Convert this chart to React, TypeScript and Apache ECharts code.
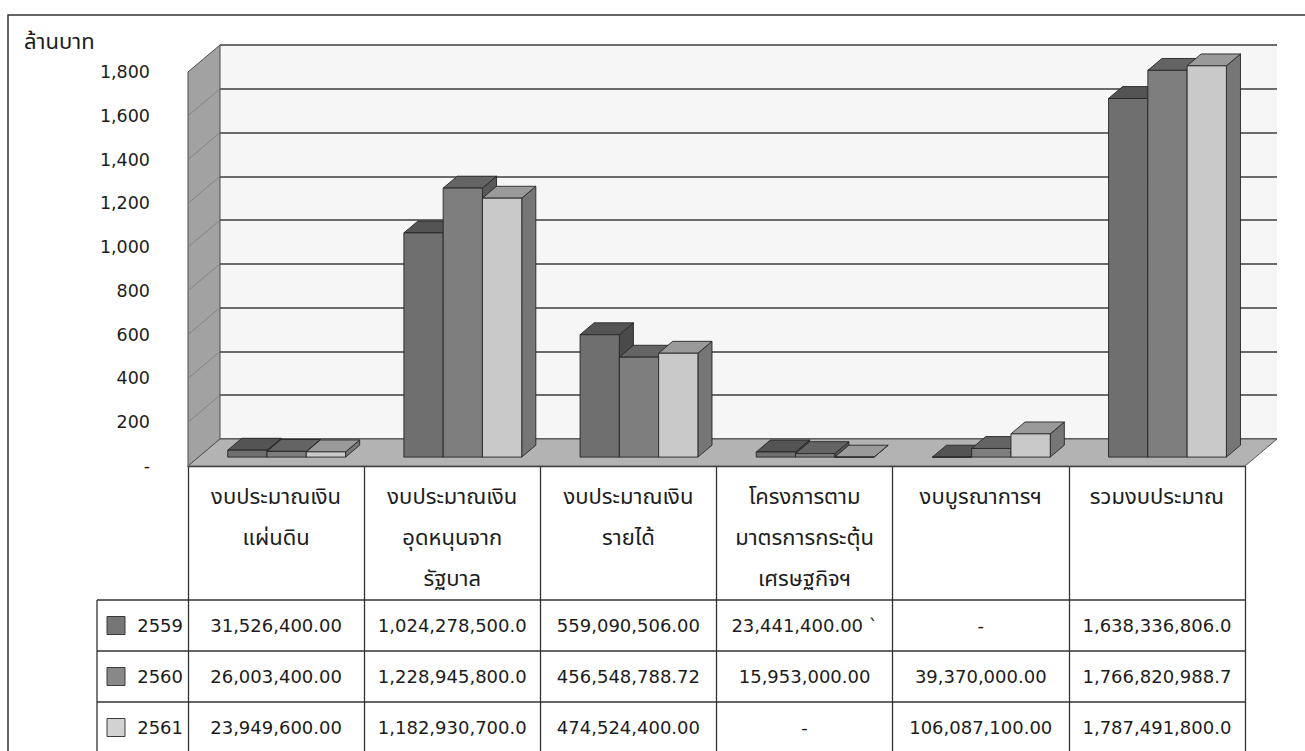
import React, { useEffect, useRef } from "react";
import * as echarts from "echarts";

// ---------- data ----------
const CATEGORIES = [
  "งบประมาณเงิน\nแผ่นดิน",
  "งบประมาณเงิน\nอุดหนุนจาก\nรัฐบาล",
  "งบประมาณเงิน\nรายได้",
  "โครงการตาม\nมาตรการกระตุ้น\nเศรษฐกิจฯ",
  "งบบูรณาการฯ",
  "รวมงบประมาณ",
];
const YEARS = ["2559", "2560", "2561"];

// values in baht
const V2559 = [31526400, 1024278500, 559090506, 23441400, 0, 1638336806];
const V2560 = [26003400, 1228945800, 456548788.72, 15953000, 39370000, 1766820988.7];
const V2561 = [23949600, 1182930700, 474524400, 0, 106087100, 1787491800];

// table cell texts (as printed)
const T2559 = ["31,526,400.00", "1,024,278,500.0", "559,090,506.00", "23,441,400.00 `", "-", "1,638,336,806.0"];
const T2560 = ["26,003,400.00", "1,228,945,800.0", "456,548,788.72", "15,953,000.00", "39,370,000.00", "1,766,820,988.7"];
const T2561 = ["23,949,600.00", "1,182,930,700.0", "474,524,400.00", "-", "106,087,100.00", "1,787,491,800.0"];

const Y_MIN = 0;
const Y_MAX = 1800;
const Y_INTERVAL = 200;
const Y_UNIT = "ล้านบาท";

// ---------- styles ----------
const FONT = "Tahoma, 'DejaVu Sans', 'Noto Sans Thai', Loma, Garuda, sans-serif";
const FRONT = { left: 188, right: 60, top: 72, bottom: 285 };
const DEPTH_X = 32;
const DEPTH_Y = 27;
const BAR_FRAC = 0.223;
const BAR_FRONT = 0.33;
const BAR_DEPTH = 0.44;
const FRONT_FILL = ["#6f6f6f", "#7e7e7e", "#c9c9c9"];
const TOP_FILL = ["#545454", "#646464", "#9a9a9a"];
const SIDE_FILL = ["#4a4a4a", "#595959", "#767676"];
const KEY_FILL = ["#767676", "#888888", "#d2d2d2"];
const EDGE = "#262626";
const LINE = "#333333";
const TEXT = "#1c1c1c";
const HEADER_H = 134;
const ROW_H = 51;
const LEGEND_LEFT = 97;

const SERIES_VALUES = [V2559, V2560, V2561];
const TABLE_TEXT = [T2559, T2560, T2561];

function barRenderer(k: number) {
  return (params: any, api: any) => {
    const ci = api.value(0);
    const v = api.value(1);
    const base = api.coord([ci, 0]);
    const top = api.coord([ci, v]);
    const band = api.size([1, 0])[0];
    const w = band * BAR_FRAC;
    const ox = BAR_FRONT * DEPTH_X;
    const oy = BAR_FRONT * DEPTH_Y;
    const bx = BAR_DEPTH * DEPTH_X;
    const by = BAR_DEPTH * DEPTH_Y;
    const x0 = base[0] - 1.5 * w + k * w + ox;
    const x1 = x0 + w;
    const yb = base[1] - oy;
    const yt = top[1] - oy;
    const st = (fill: string) => ({ fill, stroke: EDGE, lineWidth: 0.9 });
    return {
      type: "group",
      children: [
        { type: "polygon", shape: { points: [[x1, yt], [x1 + bx, yt - by], [x1 + bx, yb - by], [x1, yb]] }, style: st(SIDE_FILL[k]) },
        { type: "polygon", shape: { points: [[x0, yt], [x1, yt], [x1 + bx, yt - by], [x0 + bx, yt - by]] }, style: st(TOP_FILL[k]) },
        { type: "rect", shape: { x: x0, y: yt, width: w, height: Math.max(0, yb - yt) }, style: st(FRONT_FILL[k]) },
      ],
    };
  };
}

function wallRenderer(params: any, api: any) {
  const band = api.size([1, 0])[0];
  const c0 = api.coord([0, Y_MIN]);
  const cTop = api.coord([0, Y_MAX]);
  const lx = c0[0] - band / 2;
  const rx = lx + band * CATEGORIES.length;
  const y0 = c0[1];
  const yT = cTop[1];
  const children: any[] = [
    {
      type: "polygon",
      shape: { points: [[lx, yT], [lx + DEPTH_X, yT - DEPTH_Y], [lx + DEPTH_X, y0 - DEPTH_Y], [lx, y0]] },
      style: { fill: "#a2a2a2", stroke: "#4a4a4a", lineWidth: 1 },
    },
  ];
  for (let v = Y_MIN + Y_INTERVAL; v < Y_MAX; v += Y_INTERVAL) {
    const y = api.coord([0, v])[1];
    children.push({
      type: "line",
      shape: { x1: lx, y1: y, x2: lx + DEPTH_X, y2: y - DEPTH_Y },
      style: { stroke: "#7a7a7a", lineWidth: 0.8 },
    });
  }
  children.push({
    type: "polygon",
    shape: { points: [[lx, y0], [lx + DEPTH_X, y0 - DEPTH_Y], [rx + DEPTH_X, y0 - DEPTH_Y], [rx, y0]] },
    style: { fill: "#b3b3b3", stroke: "#555555", lineWidth: 1 },
  });
  return { type: "group", children };
}

export default function App() {
  const ref = useRef<HTMLDivElement>(null);
  useEffect(() => {
    if (!ref.current) return;
    const chart = echarts.init(ref.current, undefined, { renderer: "svg" });
    const W = 1305;
    const H = 751;
    const back = {
      left: FRONT.left + DEPTH_X,
      right: FRONT.right - DEPTH_X,
      top: FRONT.top - DEPTH_Y,
      bottom: FRONT.bottom + DEPTH_Y,
    };
    chart.setOption({
      animation: false,
      backgroundColor: "#ffffff",
      textStyle: { fontFamily: FONT },
      title: {
        text: Y_UNIT,
        left: 19,
        top: 25,
        textStyle: { fontFamily: FONT, fontSize: 22, fontWeight: "normal", color: TEXT },
      },
      grid: [
        { ...FRONT, containLabel: false },
        { ...back, show: true, backgroundColor: "#f6f6f6", borderWidth: 0, containLabel: false },
      ],
      xAxis: [
        {
          type: "category",
          gridIndex: 0,
          data: CATEGORIES,
          axisLine: { show: true, lineStyle: { color: LINE, width: 1.3 } },
          axisTick: { show: true, length: 300, lineStyle: { color: LINE, width: 1.3 } },
          axisLabel: {
            interval: 0,
            margin: 10,
            fontFamily: FONT,
            fontSize: 22,
            lineHeight: 41,
            verticalAlign: "top",
            color: TEXT,
          },
        },
        { type: "category", gridIndex: 1, data: CATEGORIES, show: false },
      ],
      yAxis: [
        {
          type: "value",
          gridIndex: 0,
          min: Y_MIN,
          max: Y_MAX,
          interval: Y_INTERVAL,
          axisLine: { show: false },
          axisTick: { show: false },
          splitLine: { show: false },
          axisLabel: {
            margin: 38,
            fontFamily: FONT,
            fontSize: 17.5,
            color: TEXT,
            formatter: (v: number) => (v === 0 ? "-" : v.toLocaleString("en-US")),
          },
        },
        {
          type: "value",
          gridIndex: 1,
          min: Y_MIN,
          max: Y_MAX,
          interval: Y_INTERVAL,
          axisLine: { show: false },
          axisTick: { show: false },
          axisLabel: { show: false },
          splitLine: { show: true, lineStyle: { color: "#3c3c3c", width: 1.5 } },
        },
      ],
      series: [
        {
          type: "custom",
          name: "walls",
          xAxisIndex: 0,
          yAxisIndex: 0,
          silent: true,
          data: [[0, 0]],
          renderItem: wallRenderer,
        },
        ...YEARS.map((y, k) => ({
          type: "custom",
          name: y,
          xAxisIndex: 0,
          yAxisIndex: 0,
          data: SERIES_VALUES[k].map((v, i) => [i, v / 1e6]),
          renderItem: barRenderer(k),
        })),
      ],
    });

    // table body, positioned from the x axis scale
    const centers = CATEGORIES.map((_, i) => chart.convertToPixel({ xAxisIndex: 0 }, i) as number);
    const yAxisZero = chart.convertToPixel({ yAxisIndex: 0 }, Y_MIN) as number;
    const band = centers.length > 1 ? centers[1] - centers[0] : 176;
    const tableLeft = centers[0] - band / 2;
    const tableRight = centers[centers.length - 1] + band / 2;
    const headerBottom = yAxisZero + HEADER_H;
    const graphics: any[] = [
      {
        type: "rect",
        z: -1,
        shape: { x: 8, y: 15, width: W + 100, height: H + 100 },
        style: { fill: "none", stroke: LINE, lineWidth: 1.5 },
      },
      {
        type: "line",
        shape: { x1: LEGEND_LEFT, y1: headerBottom, x2: LEGEND_LEFT, y2: H + 20 },
        style: { stroke: LINE, lineWidth: 1.3 },
      },
    ];
    for (let r = 0; r <= YEARS.length; r++) {
      const y = headerBottom + r * ROW_H;
      graphics.push({
        type: "line",
        shape: { x1: LEGEND_LEFT, y1: y, x2: tableRight, y2: y },
        style: { stroke: LINE, lineWidth: 1.3 },
      });
    }
    YEARS.forEach((yr, r) => {
      const cy = headerBottom + (r + 0.5) * ROW_H;
      graphics.push({
        type: "rect",
        shape: { x: LEGEND_LEFT + 10, y: cy - 9, width: 18, height: 18 },
        style: { fill: KEY_FILL[r], stroke: "#3a3a3a", lineWidth: 1 },
      });
      graphics.push({
        type: "text",
        x: tableLeft - 5,
        y: cy,
        style: { text: yr, font: `18px ${FONT}`, fill: TEXT, align: "right", verticalAlign: "middle" },
      });
      TABLE_TEXT[r].forEach((t, i) => {
        graphics.push({
          type: "text",
          x: centers[i],
          y: cy,
          style: { text: t, font: `18px ${FONT}`, fill: TEXT, align: "center", verticalAlign: "middle" },
        });
      });
    });
    chart.setOption({ graphic: graphics });

    return () => chart.dispose();
  }, []);
  return (
    <div
      ref={ref}
      style={{ position: "fixed", left: 0, top: 0, width: 1305, height: 751, background: "#fff" }}
    />
  );
}
